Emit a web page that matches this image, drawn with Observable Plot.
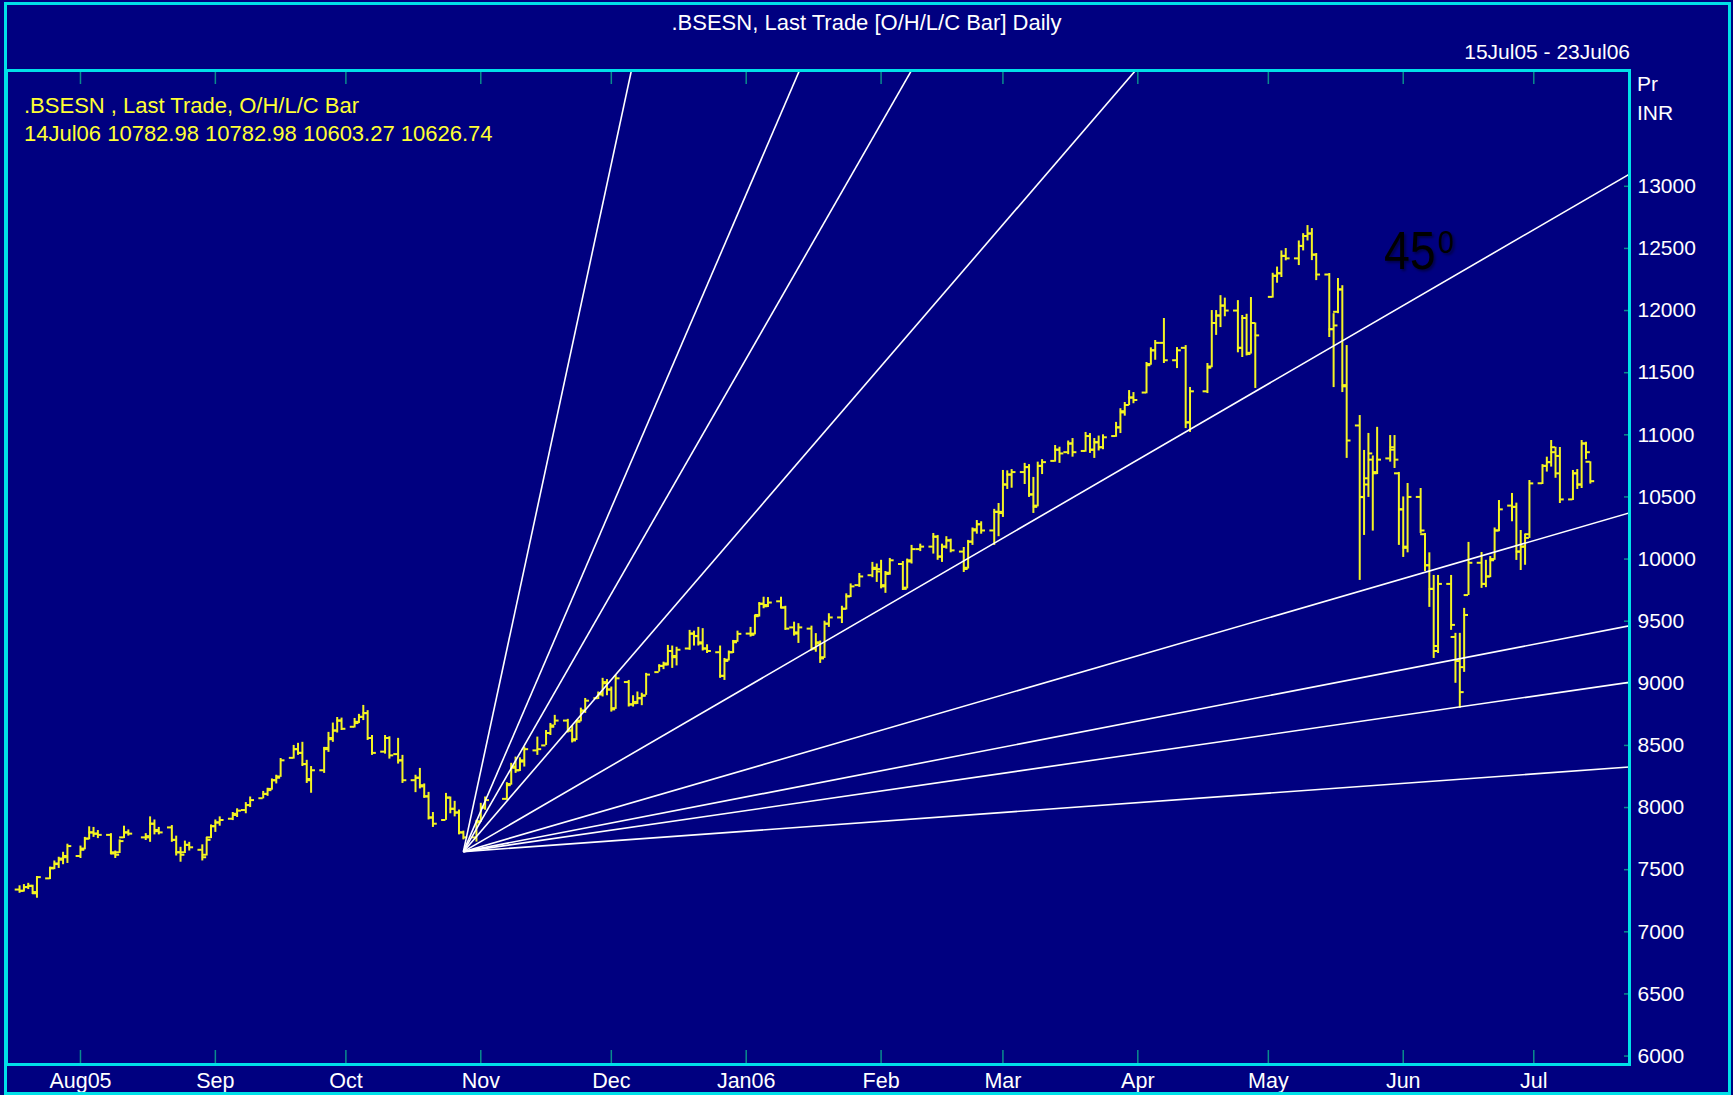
<!DOCTYPE html>
<html>
<head>
<meta charset="utf-8">
<script src="https://cdn.jsdelivr.net/npm/d3@7"></script>
<script src="https://cdn.jsdelivr.net/npm/@observablehq/plot@0.6"></script>
<style>
  html, body { margin: 0; padding: 0; background: #000080; }
  #wrap { position: relative; width: 1733px; height: 1095px; background: #000080; overflow: hidden;
          font-family: "Liberation Sans", Arial, sans-serif; }
  #chart { position: absolute; left: 0; top: 0; }
  .txt { position: absolute; white-space: nowrap; line-height: 22px; }
  #border { position: absolute; left: 4px; top: 2px; width: 1721px; height: 1087px;
            border: 3px solid #00e0e8; pointer-events: none; }
</style>
</head>
<body>
<div id="wrap">
  <div id="chart"></div>
  <div id="border"></div>
  <div class="txt" style="left:0;width:1733px;top:12px;text-align:center;color:#fff;font-size:22px">.BSESN, Last Trade [O/H/L/C Bar] Daily</div>
  <div class="txt" style="right:103px;top:41px;color:#fff;font-size:21px">15Jul05 - 23Jul06</div>
  <div class="txt" style="left:24px;top:95px;color:#ffff33;font-size:22px">.BSESN , Last Trade, O/H/L/C Bar</div>
  <div class="txt" style="left:24px;top:123px;color:#ffff33;font-size:22px">14Jul06 10782.98 10782.98 10603.27 10626.74</div>
  <div class="txt" style="left:1637px;top:73px;color:#fff;font-size:21px">Pr</div>
  <div class="txt" style="left:1637px;top:102px;color:#fff;font-size:21px">INR</div>
  <div class="txt" style="left:1384px;top:224px;color:#000;font-size:54px;line-height:52px;transform:scaleX(0.86);transform-origin:left;text-shadow:2px 2px 3px rgba(0,0,0,0.45)">45</div>
  <div class="txt" style="left:1438px;top:226px;color:#000;font-size:32px;line-height:32px;transform:scaleX(0.9);transform-origin:left;text-shadow:2px 2px 3px rgba(0,0,0,0.45)">0</div>
</div>
<script>
// ---------- data ----------
const dates = [
  "2005-07-18","2005-07-19","2005-07-20","2005-07-21","2005-07-22","2005-07-25","2005-07-26","2005-07-27","2005-07-28","2005-07-29",
  "2005-08-01","2005-08-02","2005-08-03","2005-08-04","2005-08-05","2005-08-08","2005-08-09","2005-08-10","2005-08-11","2005-08-12","2005-08-16","2005-08-17","2005-08-18","2005-08-19","2005-08-22","2005-08-23","2005-08-24","2005-08-25","2005-08-26","2005-08-29","2005-08-30","2005-08-31",
  "2005-09-01","2005-09-02","2005-09-05","2005-09-06","2005-09-08","2005-09-09","2005-09-12","2005-09-13","2005-09-14","2005-09-15","2005-09-16","2005-09-19","2005-09-20","2005-09-21","2005-09-22","2005-09-23","2005-09-26","2005-09-27","2005-09-28","2005-09-29","2005-09-30",
  "2005-10-03","2005-10-04","2005-10-05","2005-10-06","2005-10-07","2005-10-10","2005-10-11","2005-10-13","2005-10-14","2005-10-17","2005-10-18","2005-10-19","2005-10-20","2005-10-21","2005-10-24","2005-10-25","2005-10-26","2005-10-27","2005-10-28","2005-10-31",
  "2005-11-01","2005-11-02","2005-11-07","2005-11-08","2005-11-09","2005-11-10","2005-11-11","2005-11-14","2005-11-16","2005-11-17","2005-11-18","2005-11-21","2005-11-22","2005-11-23","2005-11-24","2005-11-25","2005-11-28","2005-11-29","2005-11-30",
  "2005-12-01","2005-12-02","2005-12-05","2005-12-06","2005-12-07","2005-12-08","2005-12-09","2005-12-12","2005-12-13","2005-12-14","2005-12-15","2005-12-16","2005-12-19","2005-12-20","2005-12-21","2005-12-22","2005-12-23","2005-12-26","2005-12-27","2005-12-28","2005-12-29","2005-12-30",
  "2006-01-02","2006-01-03","2006-01-04","2006-01-05","2006-01-06","2006-01-09","2006-01-10","2006-01-12","2006-01-13","2006-01-16","2006-01-17","2006-01-18","2006-01-19","2006-01-20","2006-01-23","2006-01-24","2006-01-25","2006-01-27","2006-01-30","2006-01-31",
  "2006-02-01","2006-02-02","2006-02-03","2006-02-06","2006-02-07","2006-02-08","2006-02-10","2006-02-13","2006-02-14","2006-02-15","2006-02-16","2006-02-17","2006-02-20","2006-02-21","2006-02-22","2006-02-23","2006-02-24","2006-02-27","2006-02-28",
  "2006-03-01","2006-03-02","2006-03-03","2006-03-06","2006-03-07","2006-03-08","2006-03-09","2006-03-10","2006-03-13","2006-03-14","2006-03-16","2006-03-17","2006-03-20","2006-03-21","2006-03-22","2006-03-23","2006-03-24","2006-03-27","2006-03-28","2006-03-29","2006-03-30","2006-03-31",
  "2006-04-03","2006-04-04","2006-04-05","2006-04-07","2006-04-10","2006-04-12","2006-04-13","2006-04-17","2006-04-18","2006-04-19","2006-04-20","2006-04-21","2006-04-24","2006-04-25","2006-04-26","2006-04-27","2006-04-28",
  "2006-05-02","2006-05-03","2006-05-04","2006-05-05","2006-05-08","2006-05-09","2006-05-10","2006-05-11","2006-05-12","2006-05-15","2006-05-16","2006-05-17","2006-05-18","2006-05-19","2006-05-22","2006-05-23","2006-05-24","2006-05-25","2006-05-26","2006-05-29","2006-05-30","2006-05-31",
  "2006-06-01","2006-06-02","2006-06-05","2006-06-06","2006-06-07","2006-06-08","2006-06-09","2006-06-12","2006-06-13","2006-06-14","2006-06-15","2006-06-16","2006-06-19","2006-06-20","2006-06-21","2006-06-22","2006-06-23","2006-06-26","2006-06-27","2006-06-28","2006-06-29","2006-06-30",
  "2006-07-03","2006-07-04","2006-07-05","2006-07-06","2006-07-07","2006-07-10","2006-07-11","2006-07-12","2006-07-13","2006-07-14"
];
const open = [
  7340,7330,7360,7370,7310,7430,7515,7545,7580,7600,
  7610,7670,7750,7800,7790,7780,7630,7640,7760,7800,7760,7760,7870,7820,7840,7740,7640,7640,7700,7660,7620,7760,
  7850,7880,7910,7950,7980,8020,8075,8110,8150,8220,8250,8400,8470,8440,8350,8230,8300,8480,8560,8620,8700,
  8650,8690,8730,8760,8560,8450,8560,8430,8380,8220,8240,8170,8090,7920,7900,8080,7990,7960,7800,7760,
  7890,8000,8070,8190,8320,8300,8380,8460,8500,8600,8661,8700,8620,8550,8700,8780,8880,8920,9000,
  8950,8800,9010,8830,8840,8880,8903,9090,9140,9160,9260,9220,9280,9400,9380,9330,9280,9250,9060,9190,9250,9340,
  9400,9400,9550,9640,9630,9660,9610,9450,9410,9440,9280,9320,9210,9480,9530,9600,9700,9790,9870,9930,
  9900,9780,9890,9960,9770,9990,10080,10100,10180,10020,10100,10150,10060,9930,10140,10240,10280,10230,10380,
  10380,10600,10680,10700,10740,10520,10430,10750,10790,10880,10860,10930,10870,10990,10880,10940,10900,10990,11060,11190,11240,11300,
  11340,11570,11680,11740,11600,11700,11100,11350,11550,11900,11960,12040,12000,11700,11940,11660,11900,
  12110,12280,12300,12440,12420,12520,12600,12620,12450,12290,11850,11990,12170,11400,11075,10500,10600,10800,10700,10810,10900,10690,
  10400,10100,10500,10200,9950,9760,9260,9800,9373,9180,9130,9710,9970,9800,9860,10000,10230,10430,10420,10060,10100,10200,
  10610,10750,10780,10860,10830,10480,10690,10600,10930,10782.98
];
const high = [
  7370,7380,7390,7375,7445,7520,7570,7600,7640,7705,
  7690,7760,7845,7840,7815,7790,7650,7740,7850,7820,7790,7925,7900,7840,7855,7770,7680,7730,7720,7700,7760,7860,
  7900,7925,7960,7990,8040,8085,8130,8155,8230,8260,8395,8500,8517,8525,8380,8330,8484,8605,8680,8725,8720,
  8717,8750,8822,8780,8580,8580,8570,8557,8420,8260,8315,8190,8122,7960,8114,8085,8050,7980,7810,7897,
  8034,8085,8200,8356,8406,8400,8487,8567,8620,8677,8742,8710,8660,8700,8800,8878,8930,9040,9030,
  8970,9064,9023,8900,8930,8920,9080,9150,9170,9305,9300,9290,9426,9420,9450,9440,9310,9300,9200,9260,9345,9420,
  9450,9546,9650,9693,9690,9693,9620,9492,9480,9460,9400,9340,9500,9560,9620,9720,9800,9884,9973,9960,
  9990,9900,10005,9980,10000,10110,10120,10206,10190,10120,10180,10160,10093,10150,10250,10310,10300,10400,10447,
  10713,10710,10720,10770,10760,10657,10780,10800,10914,10900,10950,10970,11019,11010,10970,10990,11000,11100,11210,11260,11356,11340,
  11582,11700,11759,11936,11702,11718,11381,11574,12000,12000,12120,12100,12080,11960,11970,12105,11900,
  12300,12350,12480,12499,12560,12619,12684,12660,12459,12298,11975,12258,12200,11718,11155,10874,11011,10830,11060,10994,10994,10697,
  10500,10608,10568,10206,10050,9868,9868,9868,9402,9402,9603,10134,10053,9990,10020,10250,10471,10528,10450,10230,10200,10632,
  10760,10820,10954,10900,10898,10713,10720,10954,10940,10782.98
];
const low = [
  7310,7320,7340,7300,7270,7420,7500,7510,7540,7550,
  7590,7660,7740,7760,7750,7620,7590,7630,7750,7770,7735,7720,7780,7780,7720,7610,7560,7630,7650,7570,7610,7750,
  7800,7850,7895,7920,7950,8000,8070,8090,8140,8190,8243,8390,8420,8330,8194,8115,8275,8444,8525,8600,8620,
  8640,8676,8700,8540,8420,8430,8390,8350,8194,8120,8150,8074,7900,7840,7897,7950,7925,7780,7740,7722,
  7880,7978,8058,8180,8275,8290,8326,8420,8500,8580,8661,8600,8520,8540,8690,8758,8870,8890,8900,
  8768,8790,8809,8809,8830,8820,8903,9090,9110,9140,9120,9140,9265,9300,9300,9260,9240,9040,9023,9180,9240,9330,
  9372,9390,9533,9600,9610,9600,9426,9380,9321,9260,9250,9160,9200,9450,9481,9590,9690,9772,9850,9812,
  9760,9724,9870,9747,9760,9960,10060,10040,9990,9973,10080,10050,9892,9920,10110,10200,10200,10110,10180,
  10335,10560,10570,10600,10496,10367,10420,10680,10780,10770,10840,10820,10860,10850,10810,10870,10880,10980,11010,11150,11235,11250,
  11330,11560,11600,11574,11533,11050,11019,11332,11540,11800,11863,11950,11660,11622,11635,11650,11373,
  12100,12220,12266,12400,12362,12480,12560,12402,12241,11783,11380,11975,11340,10810,9828,10190,10496,10225,10680,10780,10729,10110,
  10013,10050,10206,9900,9611,9200,9240,9426,9000,8798,9088,9707,9764,9770,9850,9990,10220,10300,9989,9908,9950,10166,
  10600,10700,10740,10650,10447,10471,10560,10568,10800,10603.27
];
const close = [
  7330,7360,7370,7320,7440,7510,7550,7590,7610,7690,
  7660,7750,7800,7790,7780,7640,7620,7730,7800,7790,7770,7870,7810,7800,7740,7640,7620,7700,7680,7600,7740,7850,
  7880,7900,7940,7975,8020,8060,8110,8140,8220,8240,8380,8470,8440,8350,8220,8300,8470,8550,8620,8700,8634,
  8680,8730,8760,8560,8440,8560,8420,8380,8220,8240,8180,8090,7920,7870,8080,7990,7960,7800,7760,7880,
  8000,8060,8180,8330,8300,8370,8470,8470,8600,8650,8700,8620,8540,8690,8780,8860,8910,9010,8950,
  8790,9040,8830,8850,8880,8900,9070,9140,9150,9260,9210,9270,9400,9380,9320,9280,9260,9060,9180,9250,9330,9398,
  9390,9540,9640,9620,9650,9610,9440,9400,9450,9280,9330,9200,9480,9530,9600,9700,9780,9860,9920,9919,
  9790,9880,9990,9760,9980,10080,10100,10180,10020,10100,10150,10070,9920,10140,10230,10280,10230,10380,10370,
  10600,10680,10700,10740,10520,10420,10750,10780,10880,10850,10930,10860,10990,10880,10940,10900,10980,11060,11180,11240,11300,11280,
  11560,11680,11740,11600,11680,11100,11350,11540,11900,11960,12040,12000,11700,11940,11650,11900,11800,
  12280,12300,12440,12420,12520,12600,12620,12450,12290,11850,11880,12170,11390,10954,10498,10650,10850,10690,10800,10880,10800,10400,
  10090,10500,10230,9950,9760,9300,9800,9470,9180,8929,9550,9970,9800,9860,9990,10230,10400,10420,10060,10100,10170,10609,
  10750,10780,10900,10690,10480,10690,10600,10930,10860,10626.74
];

const monthTicks = ["2005-08-01","2005-09-01","2005-10-01","2005-11-01","2005-12-01","2006-01-01","2006-02-01","2006-03-01","2006-04-01","2006-05-01","2006-06-01","2006-07-01"];
const monthLabels = ["Aug05","Sep","Oct","Nov","Dec","Jan06","Feb","Mar","Apr","May","Jun","Jul"];
const priceTicks = [6000,6500,7000,7500,8000,8500,9000,9500,10000,10500,11000,11500,12000,12500,13000];

// Gann fan: origin and ratios (price units per calendar day for 1x1)
const fanOriginDate = "2005-10-28";
const fanOriginPrice = 7645;
const fanRatios = [8, 4, 3, 2, 1, 1/2, 1/3, 1/4, 1/8];
const fanUnit = 20.35;

const xDomain = ["2005-07-15", "2006-07-23"];
const yDomain = [5932, 13932];

// ---------- build ----------
const DAY = 864e5;
const bars = dates.map((d, i) => ({date: new Date(d), open: open[i], high: high[i], low: low[i], close: close[i]}));
const months = monthTicks.map((d, i) => ({date: new Date(d), label: monthLabels[i]}));
const o = new Date(fanOriginDate), end = new Date(xDomain[1]);
const span = (end - o) / DAY;
const fan = fanRatios.map(r => ({x1: o, y1: fanOriginPrice, x2: end, y2: fanOriginPrice + r * fanUnit * span}));

const YEL = "#f4f423", CYAN = "#00e0e8", TEAL = "#0a8c8c";
const W = 1733, H = 1095, ML = 6, MR = 104, MT = 70, MB = 31;
const fw = W - ML - MR, fh = H - MT - MB;

const chart = Plot.plot({
  width: W, height: H,
  marginLeft: ML, marginRight: MR, marginTop: MT, marginBottom: MB,
  style: {background: "transparent", color: "white", fontFamily: "'Liberation Sans', Arial, sans-serif", fontSize: "20px"},
  x: {type: "utc", domain: xDomain.map(d => new Date(d)), axis: null},
  y: {domain: yDomain, axis: null},
  marks: [
    // tick marks
    Plot.ruleX(months, {x: "date", insetBottom: fh - 14, stroke: TEAL, strokeWidth: 1.5}),
    Plot.ruleX(months, {x: "date", insetTop: fh - 14, stroke: TEAL, strokeWidth: 1.5}),
    Plot.ruleY(priceTicks, {y: d => d, insetLeft: fw - 5, stroke: TEAL, strokeWidth: 1.5}),
    // OHLC bars
    Plot.ruleX(bars, {x: "date", y1: "low", y2: "high", stroke: YEL, strokeWidth: 2}),
    Plot.ruleY(bars, {y: "open", x1: d => new Date(+d.date - DAY), x2: "date", stroke: YEL, strokeWidth: 2}),
    Plot.ruleY(bars, {y: "close", x1: "date", x2: d => new Date(+d.date + DAY), stroke: YEL, strokeWidth: 2}),
    // Gann fan
    Plot.link(fan, {x1: "x1", y1: "y1", x2: "x2", y2: "y2", stroke: "white", strokeWidth: 1.6, clip: true}),
    // labels
    Plot.text(months, {x: "date", text: "label", frameAnchor: "bottom", dy: 23, fill: "white", fontSize: 21.5}),
    Plot.text(priceTicks, {y: d => d, text: d => String(d), frameAnchor: "right", textAnchor: "start", dx: 8, fill: "white", fontSize: 21}),
    Plot.frame({stroke: CYAN, strokeWidth: 3})
  ]
});
document.getElementById("chart").appendChild(chart);
</script>
</body>
</html>
